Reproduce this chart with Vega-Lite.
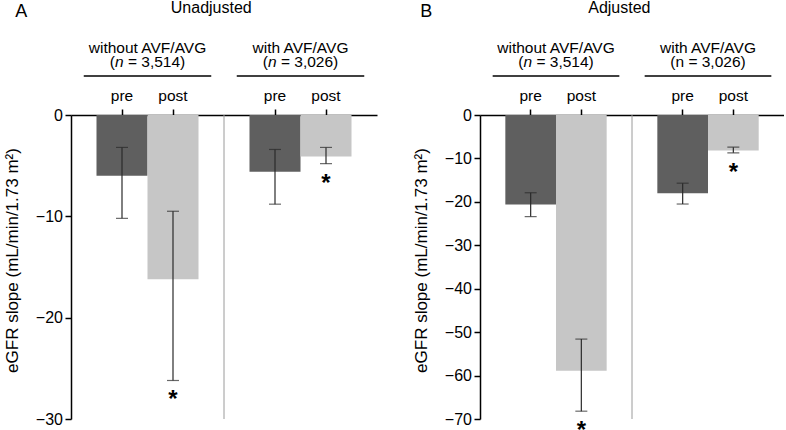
{
  "$schema": "https://vega.github.io/schema/vega-lite/v6.json",
  "padding": {"left": 3, "top": -1, "right": 0, "bottom": 0},
  "spacing": 35,
  "config": {
    "font": "Liberation Sans",
    "view": {"stroke": null},
    "axis": {"grid": false, "domainColor": "#000000", "domainWidth": 1.5, "tickColor": "#000000", "tickWidth": 1.5, "labelColor": "#000000", "titleColor": "#000000", "labelFontSize": 16, "titleFontSize": 17, "titleFontWeight": "normal"},
    "title": {"color": "#000000", "fontWeight": "normal", "fontSize": 18}
  },
  "hconcat": [
    {
      "width": 306,
      "height": 304,
      "title": {"text": "A", "anchor": "start", "frame": "bounds", "offset": -21, "dx": 12},
      "data": {"values": [
        {"bar": "wo_pre", "phase": "pre", "mean": -6.0, "lo": -10.2, "hi": -3.2, "sig": ""},
        {"bar": "wo_post", "phase": "post", "mean": -16.2, "lo": -26.2, "hi": -9.5, "sig": "*"},
        {"bar": "w_pre", "phase": "pre", "mean": -5.6, "lo": -8.8, "hi": -3.4, "sig": ""},
        {"bar": "w_post", "phase": "post", "mean": -4.1, "lo": -4.8, "hi": -3.2, "sig": "*"}
      ]},
      "layer": [
        {
          "mark": {"type": "bar"},
          "encoding": {
            "x": {"field": "bar", "type": "nominal", "scale": {"domain": ["wo_pre", "wo_post", "gap", "w_pre", "w_post"], "paddingInner": 0, "paddingOuter": 0.5}, "axis": {"orient": "top", "title": null, "values": ["wo_pre", "wo_post", "w_pre", "w_post"], "labelExpr": "indexof(datum.value, 'pre') >= 0 ? 'pre' : 'post'", "labelAngle": 0, "tickSize": 6, "labelPadding": 9, "labelBaseline": "alphabetic", "labelFontSize": 15.5}},
            "y": {"field": "mean", "type": "quantitative", "scale": {"domain": [-30, 0], "nice": false, "zero": false}, "axis": {"title": "eGFR slope (mL/min/1.73 m²)", "values": [0, -10, -20, -30], "tickSize": 6, "labelPadding": 2.5, "titlePadding": 14, "titleY": 145}},
            "color": {"field": "phase", "type": "nominal", "scale": {"domain": ["pre", "post"], "range": ["#5f5f5f", "#c6c6c6"]}, "legend": null}
          }
        },
        {
          "data": {"values": [{}]},
          "mark": {"type": "rule", "color": "#9a9a9a", "strokeWidth": 1},
          "encoding": {"x": {"datum": "gap", "type": "nominal"}, "y": {"datum": 0, "type": "quantitative"}, "y2": {"datum": -30}}
        },
        {
          "mark": {"type": "rule", "color": "#2a2a2a", "strokeWidth": 1.2},
          "encoding": {"x": {"field": "bar", "type": "nominal"}, "y": {"field": "lo", "type": "quantitative"}, "y2": {"field": "hi"}}
        },
        {
          "mark": {"type": "tick", "color": "#2a2a2a", "thickness": 1.2, "size": 12},
          "encoding": {"x": {"field": "bar", "type": "nominal"}, "y": {"field": "lo", "type": "quantitative"}}
        },
        {
          "mark": {"type": "tick", "color": "#2a2a2a", "thickness": 1.2, "size": 12},
          "encoding": {"x": {"field": "bar", "type": "nominal"}, "y": {"field": "hi", "type": "quantitative"}}
        },
        {
          "transform": [{"filter": "datum.sig != ''"}],
          "mark": {"type": "text", "fontSize": 24, "fontWeight": "bold", "dy": 27, "baseline": "alphabetic", "color": "#000000"},
          "encoding": {"x": {"field": "bar", "type": "nominal"}, "y": {"field": "lo", "type": "quantitative"}, "text": {"field": "sig"}}
        },
        {
          "data": {"values": [{"bar": "wo_pre", "label": "without AVF/AVG"}, {"bar": "w_pre", "label": "with AVF/AVG"}]},
          "mark": {"type": "text", "fontSize": 15.5, "baseline": "alphabetic", "align": "center", "color": "#000000"},
          "encoding": {"x": {"field": "bar", "type": "nominal", "bandPosition": 1}, "y": {"datum": 6.09, "type": "quantitative"}, "text": {"field": "label"}}
        },
        {
          "data": {"values": [{"bar": "wo_pre", "label": "("}, {"bar": "w_pre", "label": "("}]},
          "mark": {"type": "text", "fontSize": 15.5, "baseline": "alphabetic", "align": "left", "dx": -37.7, "color": "#000000"},
          "encoding": {"x": {"field": "bar", "type": "nominal", "bandPosition": 1}, "y": {"datum": 4.69, "type": "quantitative"}, "text": {"field": "label"}}
        },
        {
          "data": {"values": [{"bar": "wo_pre", "label": "n"}, {"bar": "w_pre", "label": "n"}]},
          "mark": {"type": "text", "fontSize": 15.5, "fontStyle": "italic", "baseline": "alphabetic", "align": "left", "dx": -32.5, "color": "#000000"},
          "encoding": {"x": {"field": "bar", "type": "nominal", "bandPosition": 1}, "y": {"datum": 4.69, "type": "quantitative"}, "text": {"field": "label"}}
        },
        {
          "data": {"values": [{"bar": "wo_pre", "label": "= 3,514)"}, {"bar": "w_pre", "label": "= 3,026)"}]},
          "mark": {"type": "text", "fontSize": 15.5, "baseline": "alphabetic", "align": "left", "dx": -19.6, "color": "#000000"},
          "encoding": {"x": {"field": "bar", "type": "nominal", "bandPosition": 1}, "y": {"datum": 4.69, "type": "quantitative"}, "text": {"field": "label"}}
        },
        {
          "data": {"values": [{"from": "wo_pre", "to": "gap"}]},
          "mark": {"type": "rule", "color": "#000000", "strokeWidth": 1.5},
          "encoding": {"x": {"field": "from", "type": "nominal", "bandPosition": -0.25}, "x2": {"field": "to", "bandPosition": 0.25}, "y": {"datum": 3.85, "type": "quantitative"}}
        },
        {
          "data": {"values": [{"from": "w_post", "to": "gap"}]},
          "mark": {"type": "rule", "color": "#000000", "strokeWidth": 1.5},
          "encoding": {"x": {"field": "from", "type": "nominal", "bandPosition": 1.25}, "x2": {"field": "to", "bandPosition": 0.75}, "y": {"datum": 3.85, "type": "quantitative"}}
        },
        {
          "data": {"values": [{"bar": "gap", "label": "Unadjusted"}]},
          "mark": {"type": "text", "fontSize": 16, "baseline": "alphabetic", "align": "center", "color": "#000000"},
          "encoding": {"x": {"field": "bar", "type": "nominal", "bandPosition": 0.25}, "y": {"datum": 10.07, "type": "quantitative"}, "text": {"field": "label"}}
        }
      ]
    },
    {
      "width": 304,
      "height": 304,
      "title": {"text": "B", "anchor": "start", "frame": "bounds", "offset": -21, "dx": 8},
      "data": {"values": [
        {"bar": "wo_pre", "phase": "pre", "mean": -20.6, "lo": -23.4, "hi": -17.9, "sig": ""},
        {"bar": "wo_post", "phase": "post", "mean": -58.9, "lo": -68.2, "hi": -51.6, "sig": "*"},
        {"bar": "w_pre", "phase": "pre", "mean": -18.0, "lo": -20.5, "hi": -15.7, "sig": ""},
        {"bar": "w_post", "phase": "post", "mean": -8.2, "lo": -8.7, "hi": -7.4, "sig": "*"}
      ]},
      "layer": [
        {
          "mark": {"type": "bar"},
          "encoding": {
            "x": {"field": "bar", "type": "nominal", "scale": {"domain": ["wo_pre", "wo_post", "gap", "w_pre", "w_post"], "paddingInner": 0, "paddingOuter": 0.5}, "axis": {"orient": "top", "title": null, "values": ["wo_pre", "wo_post", "w_pre", "w_post"], "labelExpr": "indexof(datum.value, 'pre') >= 0 ? 'pre' : 'post'", "labelAngle": 0, "tickSize": 6, "labelPadding": 9, "labelBaseline": "alphabetic", "labelFontSize": 15.5}},
            "y": {"field": "mean", "type": "quantitative", "scale": {"domain": [-70, 0], "nice": false, "zero": false}, "axis": {"title": "eGFR slope (mL/min/1.73 m²)", "values": [0, -10, -20, -30, -40, -50, -60, -70], "tickSize": 6, "labelPadding": 2.5, "titlePadding": 14, "titleY": 145}},
            "color": {"field": "phase", "type": "nominal", "scale": {"domain": ["pre", "post"], "range": ["#5f5f5f", "#c6c6c6"]}, "legend": null}
          }
        },
        {
          "data": {"values": [{}]},
          "mark": {"type": "rule", "color": "#9a9a9a", "strokeWidth": 1},
          "encoding": {"x": {"datum": "gap", "type": "nominal"}, "y": {"datum": 0, "type": "quantitative"}, "y2": {"datum": -70}}
        },
        {
          "mark": {"type": "rule", "color": "#2a2a2a", "strokeWidth": 1.2},
          "encoding": {"x": {"field": "bar", "type": "nominal"}, "y": {"field": "lo", "type": "quantitative"}, "y2": {"field": "hi"}}
        },
        {
          "mark": {"type": "tick", "color": "#2a2a2a", "thickness": 1.2, "size": 12},
          "encoding": {"x": {"field": "bar", "type": "nominal"}, "y": {"field": "lo", "type": "quantitative"}}
        },
        {
          "mark": {"type": "tick", "color": "#2a2a2a", "thickness": 1.2, "size": 12},
          "encoding": {"x": {"field": "bar", "type": "nominal"}, "y": {"field": "hi", "type": "quantitative"}}
        },
        {
          "transform": [{"filter": "datum.sig != ''"}],
          "mark": {"type": "text", "fontSize": 24, "fontWeight": "bold", "dy": 27, "baseline": "alphabetic", "color": "#000000"},
          "encoding": {"x": {"field": "bar", "type": "nominal"}, "y": {"field": "lo", "type": "quantitative"}, "text": {"field": "sig"}}
        },
        {
          "data": {"values": [{"bar": "wo_pre", "label": "without AVF/AVG"}, {"bar": "w_pre", "label": "with AVF/AVG"}]},
          "mark": {"type": "text", "fontSize": 15.5, "baseline": "alphabetic", "align": "center", "color": "#000000"},
          "encoding": {"x": {"field": "bar", "type": "nominal", "bandPosition": 1}, "y": {"datum": 14.21, "type": "quantitative"}, "text": {"field": "label"}}
        },
        {
          "data": {"values": [{"bar": "wo_pre", "label": "("}]},
          "mark": {"type": "text", "fontSize": 15.5, "baseline": "alphabetic", "align": "left", "dx": -37.7, "color": "#000000"},
          "encoding": {"x": {"field": "bar", "type": "nominal", "bandPosition": 1}, "y": {"datum": 10.94, "type": "quantitative"}, "text": {"field": "label"}}
        },
        {
          "data": {"values": [{"bar": "wo_pre", "label": "n"}]},
          "mark": {"type": "text", "fontSize": 15.5, "fontStyle": "italic", "baseline": "alphabetic", "align": "left", "dx": -32.5, "color": "#000000"},
          "encoding": {"x": {"field": "bar", "type": "nominal", "bandPosition": 1}, "y": {"datum": 10.94, "type": "quantitative"}, "text": {"field": "label"}}
        },
        {
          "data": {"values": [{"bar": "wo_pre", "label": "= 3,514)"}]},
          "mark": {"type": "text", "fontSize": 15.5, "baseline": "alphabetic", "align": "left", "dx": -19.6, "color": "#000000"},
          "encoding": {"x": {"field": "bar", "type": "nominal", "bandPosition": 1}, "y": {"datum": 10.94, "type": "quantitative"}, "text": {"field": "label"}}
        },
        {
          "data": {"values": [{"bar": "w_pre", "label": "(n = 3,026)"}]},
          "mark": {"type": "text", "fontSize": 15.5, "baseline": "alphabetic", "align": "center", "color": "#000000"},
          "encoding": {"x": {"field": "bar", "type": "nominal", "bandPosition": 1}, "y": {"datum": 10.94, "type": "quantitative"}, "text": {"field": "label"}}
        },
        {
          "data": {"values": [{"from": "wo_pre", "to": "gap"}]},
          "mark": {"type": "rule", "color": "#000000", "strokeWidth": 1.5},
          "encoding": {"x": {"field": "from", "type": "nominal", "bandPosition": -0.25}, "x2": {"field": "to", "bandPosition": 0.25}, "y": {"datum": 8.98, "type": "quantitative"}}
        },
        {
          "data": {"values": [{"from": "w_post", "to": "gap"}]},
          "mark": {"type": "rule", "color": "#000000", "strokeWidth": 1.5},
          "encoding": {"x": {"field": "from", "type": "nominal", "bandPosition": 1.25}, "x2": {"field": "to", "bandPosition": 0.75}, "y": {"datum": 8.98, "type": "quantitative"}}
        },
        {
          "data": {"values": [{"bar": "gap", "label": "Adjusted"}]},
          "mark": {"type": "text", "fontSize": 16, "baseline": "alphabetic", "align": "center", "color": "#000000"},
          "encoding": {"x": {"field": "bar", "type": "nominal", "bandPosition": 0.25}, "y": {"datum": 23.49, "type": "quantitative"}, "text": {"field": "label"}}
        }
      ]
    }
  ],
  "resolve": {"scale": {"x": "independent", "y": "independent", "color": "shared"}}
}
